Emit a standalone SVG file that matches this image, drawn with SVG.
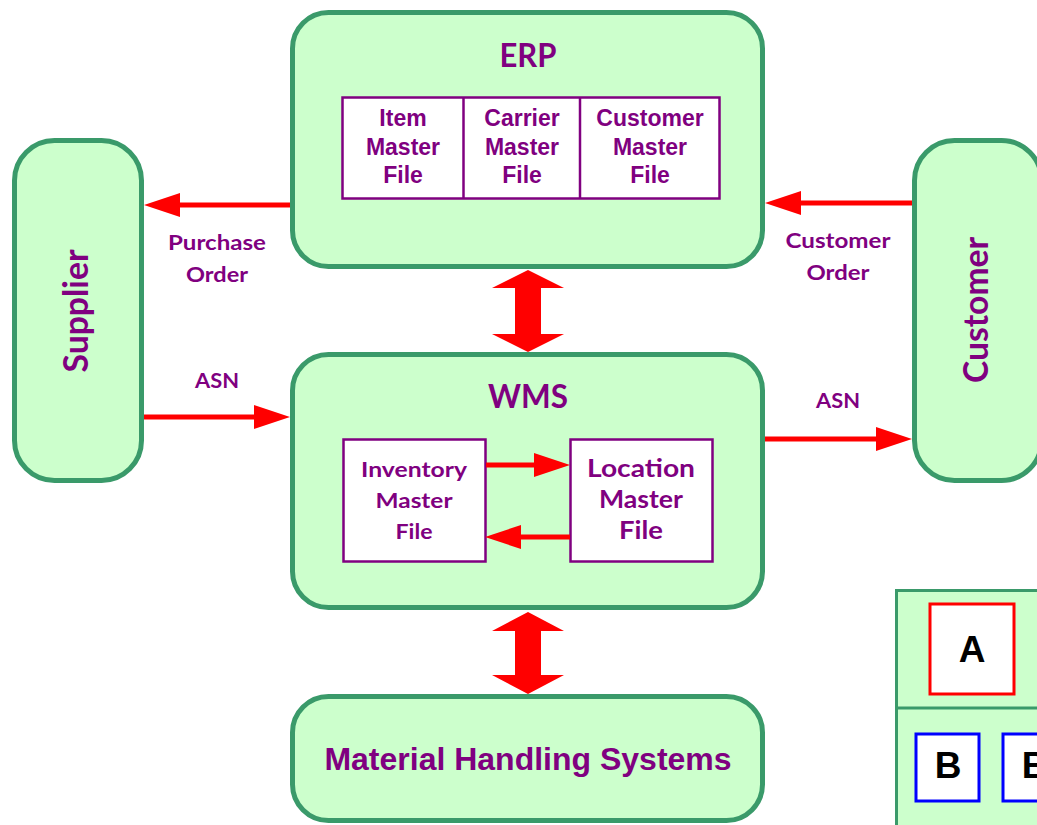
<svg xmlns="http://www.w3.org/2000/svg" width="1037" height="825" viewBox="0 0 1037 825">
<style>
.box{fill:#CCFFCC;stroke:#3A9A6A;stroke-width:5}
.tbl{fill:#FFFFFF;stroke:#800080;stroke-width:2.5}
.cal{font-family:Lato,"Open Sans","Liberation Sans",sans-serif;font-weight:bold;fill:#800080;text-anchor:middle}
.ari{font-family:"Liberation Sans",Arial,sans-serif;font-weight:bold;fill:#800080;text-anchor:middle}
.conn{stroke:#FF0000;stroke-width:5;fill:none;marker-end:url(#ah)}
.dbl{fill:#FF0000}
.leg{font-family:"Liberation Sans",Arial,sans-serif;font-weight:bold;fill:#000000;text-anchor:middle;font-size:37px}
</style>
<defs>
<marker id="ah" markerUnits="userSpaceOnUse" markerWidth="36" markerHeight="24" refX="16" refY="12" orient="auto">
<path d="M0,0 L36,12 L0,24 Z" fill="#FF0000"/>
</marker>
</defs>
<rect width="1037" height="825" fill="#FFFFFF"/>

<g id="erp">
<rect class="box" x="292.5" y="12.5" width="470" height="254" rx="36"/>
<text class="cal" x="528" y="67" font-size="32" textLength="57" lengthAdjust="spacingAndGlyphs">ERP</text>
<rect class="tbl" x="342.5" y="97.5" width="377" height="101"/>
<line class="tbl" x1="463.5" y1="97.5" x2="463.5" y2="198.5"/>
<line class="tbl" x1="580" y1="97.5" x2="580" y2="198.5"/>
<g class="ari" font-size="23">
<text x="403" y="126">Item</text><text x="403" y="155">Master</text><text x="403" y="183">File</text>
<text x="522" y="126">Carrier</text><text x="522" y="155">Master</text><text x="522" y="183">File</text>
<text x="650" y="126">Customer</text><text x="650" y="155">Master</text><text x="650" y="183">File</text>
</g>
</g>

<g id="wms">
<rect class="box" x="292.5" y="354.5" width="470" height="253" rx="36"/>
<text class="cal" x="528" y="408" font-size="32" textLength="80" lengthAdjust="spacingAndGlyphs">WMS</text>
<g id="inventory">
<rect class="tbl" x="343.5" y="439.5" width="142" height="122"/>
<text class="cal" font-size="21" x="414" y="477" textLength="106" lengthAdjust="spacingAndGlyphs">Inventory</text>
<text class="cal" font-size="21" x="414" y="508" textLength="77" lengthAdjust="spacingAndGlyphs">Master</text>
<text class="cal" font-size="21" x="414" y="539" textLength="37" lengthAdjust="spacingAndGlyphs">File</text>
</g>
<g id="location">
<rect class="tbl" x="570.5" y="439.5" width="142" height="122"/>
<text class="cal" font-size="25" x="641" y="477" textLength="108" lengthAdjust="spacingAndGlyphs">Location</text>
<text class="cal" font-size="25" x="641" y="508" textLength="84" lengthAdjust="spacingAndGlyphs">Master</text>
<text class="cal" font-size="25" x="641" y="539" textLength="44" lengthAdjust="spacingAndGlyphs">File</text>
</g>
</g>

<g id="mhs">
<rect class="box" x="292.5" y="696.5" width="470" height="124" rx="36"/>
<text class="ari" x="528" y="770" font-size="32">Material Handling Systems</text>
</g>

<g id="supplier">
<rect class="box" x="14.5" y="140.5" width="127" height="340" rx="40"/>
<text class="cal" font-size="34" transform="translate(88,311) rotate(-90)" x="0" y="0" textLength="123" lengthAdjust="spacingAndGlyphs">Supplier</text>
</g>

<g id="customer">
<rect class="box" x="914.5" y="140.5" width="127" height="340" rx="40"/>
<text class="cal" font-size="34" transform="translate(988,310) rotate(-90)" x="0" y="0" textLength="146" lengthAdjust="spacingAndGlyphs">Customer</text>
</g>

<g id="legend">
<rect x="896.5" y="590.5" width="150" height="250" fill="#CCFFCC" stroke="#3A9A6A" stroke-width="3"/>
<line x1="896.5" y1="708" x2="1037" y2="708" stroke="#3A9A6A" stroke-width="3"/>
<rect x="930" y="604" width="84" height="90" fill="#FFFFFF" stroke="#FF0000" stroke-width="3"/>
<text class="leg" x="972" y="662">A</text>
<rect x="916" y="734" width="63" height="67" fill="#FFFFFF" stroke="#0000FF" stroke-width="3"/>
<text class="leg" x="948" y="778">B</text>
<rect x="1003" y="734" width="63" height="67" fill="#FFFFFF" stroke="#0000FF" stroke-width="3"/>
<text class="leg" x="1035" y="778">B</text>
</g>

<g id="connectors">
<line class="conn" x1="290" y1="205" x2="164" y2="205"/>
<line class="conn" x1="912" y1="203" x2="785" y2="203"/>
<line class="conn" x1="144" y1="417" x2="270" y2="417"/>
<line class="conn" x1="765" y1="439" x2="892" y2="439"/>
<line class="conn" x1="486" y1="465" x2="550" y2="465"/>
<line class="conn" x1="570" y1="537" x2="505" y2="537"/>
<polygon class="dbl" points="528,270 564,288 541,288 541,334 564,334 528,352 492,334 515,334 515,288 492,288"/>
<polygon class="dbl" points="528,612 564,631 541,631 541,675 564,675 528,694 492,675 515,675 515,631 492,631"/>
<g class="cal" font-size="21">
<text x="217" y="250" textLength="98" lengthAdjust="spacingAndGlyphs">Purchase</text>
<text x="217" y="282" textLength="62" lengthAdjust="spacingAndGlyphs">Order</text>
<text x="217" y="388" textLength="44" lengthAdjust="spacingAndGlyphs">ASN</text>
<text x="838" y="248" textLength="105" lengthAdjust="spacingAndGlyphs">Customer</text>
<text x="838" y="280" textLength="63" lengthAdjust="spacingAndGlyphs">Order</text>
<text x="838" y="408" textLength="44" lengthAdjust="spacingAndGlyphs">ASN</text>
</g>
</g>
</svg>
